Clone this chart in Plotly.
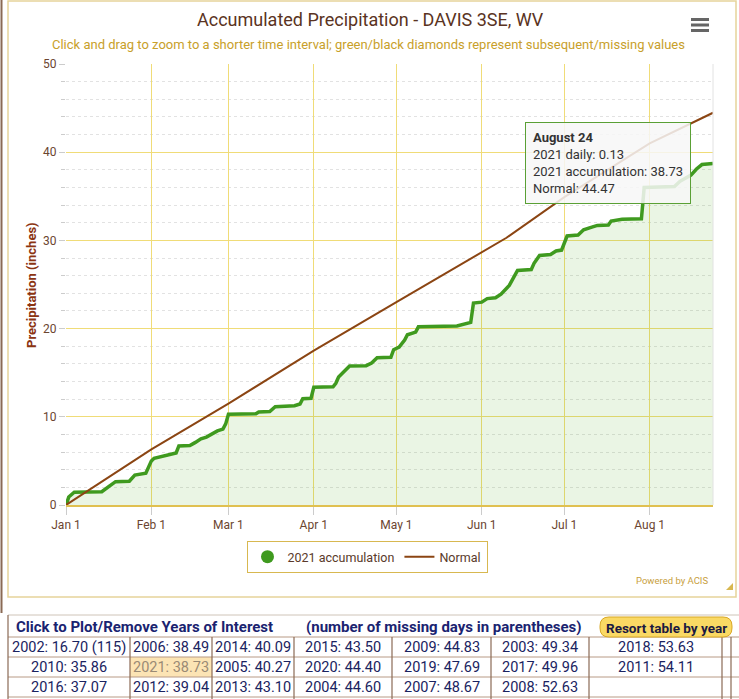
import plotly.graph_objects as go

# 2021 accumulated precipitation (inches) at the step points
acc_dates = ['2021-01-01', '2021-01-02', '2021-01-04', '2021-01-14', '2021-01-17', '2021-01-19',
             '2021-01-24', '2021-01-26', '2021-01-30', '2021-02-01', '2021-02-02', '2021-02-05',
             '2021-02-09', '2021-02-10', '2021-02-11', '2021-02-15', '2021-02-17', '2021-02-19',
             '2021-02-21', '2021-02-23', '2021-02-25', '2021-02-27', '2021-02-28', '2021-03-01',
             '2021-03-11', '2021-03-12', '2021-03-16', '2021-03-18', '2021-03-25', '2021-03-27',
             '2021-03-28', '2021-03-31', '2021-04-01', '2021-04-08', '2021-04-09', '2021-04-10',
             '2021-04-12', '2021-04-14', '2021-04-20', '2021-04-22', '2021-04-24', '2021-04-29',
             '2021-04-30', '2021-05-02', '2021-05-04', '2021-05-05', '2021-05-08', '2021-05-09',
             '2021-05-23', '2021-05-26', '2021-05-28', '2021-05-29', '2021-06-01', '2021-06-03',
             '2021-06-06', '2021-06-08', '2021-06-11', '2021-06-14', '2021-06-19', '2021-06-20',
             '2021-06-22', '2021-06-26', '2021-06-28', '2021-06-30', '2021-07-02', '2021-07-06',
             '2021-07-08', '2021-07-11', '2021-07-13', '2021-07-17', '2021-07-18', '2021-07-22',
             '2021-07-29', '2021-07-30', '2021-08-10', '2021-08-12', '2021-08-16', '2021-08-18',
             '2021-08-20', '2021-08-24']
acc_values = [0, 0.9, 1.45, 1.5, 2.2, 2.65,
              2.7, 3.4, 3.6, 5.0, 5.3, 5.5,
              5.8, 5.9, 6.7, 6.75, 7.1, 7.5,
              7.7, 8.1, 8.4, 8.6, 9.2, 10.3,
              10.35, 10.55, 10.6, 11.15, 11.25, 11.45,
              12.05, 12.1, 13.35, 13.4, 13.8, 14.5,
              15.1, 15.75, 15.8, 16.1, 16.7, 16.75,
              17.6, 17.9, 18.7, 19.3, 19.6, 20.2,
              20.3, 20.5, 20.7, 22.9, 23.0, 23.4,
              23.5, 23.9, 24.9, 26.6, 26.7, 27.4,
              28.3, 28.4, 28.8, 28.9, 30.5, 30.6,
              31.2, 31.5, 31.7, 31.75, 32.2, 32.4,
              32.45, 36.0, 36.1, 36.7, 37.4, 38.1,
              38.6, 38.73]

# normal accumulation
normal_dates = ['2021-01-01', '2021-02-01', '2021-03-01', '2021-04-01', '2021-05-01',
                '2021-06-01', '2021-06-10', '2021-07-01', '2021-08-01', '2021-08-24']
normal_values = [0, 6.3, 11.5, 17.5, 23.0, 28.6, 30.3, 34.9, 41.0, 44.47]

daily_last = 0.13

month_ticks = ['2021-01-01', '2021-02-01', '2021-03-01', '2021-04-01',
               '2021-05-01', '2021-06-01', '2021-07-01', '2021-08-01']

# year totals table, in the order shown (sorted by total)
table_years = [2002, 2010, 2016, 2006, 2021, 2012, 2014, 2005, 2013, 2015, 2020,
               2004, 2009, 2019, 2007, 2003, 2017, 2008, 2018, 2011]
table_totals = [16.70, 35.86, 37.07, 38.49, 38.73, 39.04, 40.09, 40.27, 43.10, 43.50, 44.40,
                44.60, 44.83, 47.69, 48.67, 49.34, 49.96, 52.63, 53.63, 54.11]
table_missing = {2002: 115}

W, H = 739, 699
L, R, T, B = 66, 713, 64, 505


def px(x):
    return (x - L) / (R - L)


def py(y):
    return (B - y) / (B - T)


def note(x, y, text, size, color, xa='center', ya='middle', **kw):
    # text placed at page pixel position
    return dict(xref='paper', yref='paper', x=px(x), y=py(y), text=text, showarrow=False,
                xanchor=xa, yanchor=ya,
                font=dict(family='Roboto, sans-serif', size=size, color=color), **kw)


def rounded_box(x0, y0, x1, y1, r):
    # rounded rectangle path in paper coords, corners given in page pixels
    pts = [('M', x0 + r, y0), ('L', x1 - r, y0), ('Q', x1, y0, x1, y0 + r),
           ('L', x1, y1 - r), ('Q', x1, y1, x1 - r, y1), ('L', x0 + r, y1),
           ('Q', x0, y1, x0, y1 - r), ('L', x0, y0 + r), ('Q', x0, y0, x0 + r, y0)]
    out = []
    for p in pts:
        vals = p[1:]
        coords = []
        for k in range(0, len(vals), 2):
            coords.append('%f,%f' % (px(vals[k]), py(vals[k + 1])))
        out.append(p[0] + ' ' + ' '.join(coords))
    return ' '.join(out) + ' Z'


BROWN = '#6b4530'
GOLD_GRID = '#f0dc78'
GREEN = '#3f9a1f'
NORMAL = '#8b4513'

fig = go.Figure()
fig.add_trace(go.Scatter(
    x=acc_dates, y=acc_values, mode='lines', name='2021 accumulation',
    line=dict(color=GREEN, width=3.5), fill='tozeroy',
    fillcolor='rgba(90,175,50,0.13)', showlegend=False))
fig.add_trace(go.Scatter(
    x=[None], y=[None], mode='markers', name='2021 accumulation',
    marker=dict(color=GREEN, size=13, symbol='circle')))
fig.add_trace(go.Scatter(
    x=normal_dates, y=normal_values, mode='lines', name='Normal',
    line=dict(color=NORMAL, width=2)))

shapes = []
annotations = []

# chart frame + left page edge
shapes.append(dict(type='rect', xref='paper', yref='paper', x0=px(8), x1=px(736),
                   y0=py(1), y1=py(597), line=dict(color='#e6d49a', width=1.5)))
shapes.append(dict(type='line', xref='paper', yref='paper', x0=px(1.5), x1=px(1.5),
                   y0=py(0), y1=py(613), line=dict(color='#8a6a55', width=2)))
# right edge of plot area
shapes.append(dict(type='line', xref='paper', yref='paper', x0=1, x1=1, y0=0, y1=1,
                   line=dict(color='#e2e2e2', width=1)))

# hamburger menu
for yy in (18, 23.5, 29):
    shapes.append(dict(type='rect', xref='paper', yref='paper', x0=px(691), x1=px(709),
                       y0=py(yy), y1=py(yy + 3), fillcolor='#666666', line=dict(width=0)))

# resize glyph
shapes.append(dict(type='path', xref='paper', yref='paper',
                   path='M %f %f L %f %f L %f %f Z' % (px(733), py(583), px(733), py(590),
                                                      px(726), py(590)),
                   fillcolor='#d8b850', line=dict(width=0)))

annotations.append(note(370, 19, 'Accumulated Precipitation - DAVIS 3SE, WV', 18, '#5a3322'))
annotations.append(note(368, 44, 'Click and drag to zoom to a shorter time interval; '
                                 'green/black diamonds represent subsequent/missing values',
                        13, '#c8a02a'))
annotations.append(note(710, 580, 'Powered by ACIS', 9.5, '#c8a040', xa='right'))
annotations.append(note(31, 285, '<b>Precipitation (inches)</b>', 13, '#8b3412', textangle=-90))

# tooltip for the last point
tip = ('<b>August 24</b><br>2021 daily: %.2f<br>2021 accumulation: %.2f<br>Normal: %.2f'
       % (daily_last, acc_values[-1], normal_values[-1]))
annotations.append(note(525, 122, tip, 13, '#333333', xa='left', ya='top', align='left',
                        borderpad=7, bgcolor='rgba(247,247,247,0.86)',
                        bordercolor='#5aa035', borderwidth=1))

# table of yearly totals
t_top, t_head, row_h = 615, 637, 20
col_edges = [8, 130, 212, 294, 392, 491, 589, 722]
shapes.append(dict(type='line', xref='paper', yref='paper', x0=px(8), x1=px(739),
                   y0=py(t_top), y1=py(t_top), line=dict(color='#cfc4b8', width=1)))
shapes.append(dict(type='rect', xref='paper', yref='paper', x0=px(130), x1=px(212),
                   y0=py(t_head + row_h), y1=py(t_head + 2 * row_h),
                   fillcolor='#fce4b4', line=dict(width=0)))
for r in range(4):
    yy = t_head + r * row_h
    shapes.append(dict(type='line', xref='paper', yref='paper', x0=px(8), x1=px(739),
                       y0=py(yy), y1=py(yy), line=dict(color='#b89a85', width=1)))
shapes.append(dict(type='line', xref='paper', yref='paper', x0=px(8), x1=px(8),
                   y0=py(t_top), y1=py(699), line=dict(color='#8a6a55', width=1.2)))
for xx in col_edges[1:] + [731]:
    shapes.append(dict(type='line', xref='paper', yref='paper', x0=px(xx), x1=px(xx),
                       y0=py(t_head), y1=py(699), line=dict(color='#8a6a55', width=1.2)))

annotations.append(note(14, 627, '<b>Click to Plot/Remove Years of Interest</b>', 15, '#1a2370', xa='left'))
annotations.append(note(304, 627, '<b>(number of missing days in parentheses)</b>', 15, '#1a2370', xa='left'))
shapes.append(dict(type='path', xref='paper', yref='paper',
                   path=rounded_box(600, 617, 732, 637, 9), fillcolor='#fad964',
                   line=dict(color='#d9a826', width=1)))
annotations.append(note(666, 627.5, '<b>Resort table by year</b>', 13.5, '#1a1a40'))

for i, (yr, tot) in enumerate(zip(table_years, table_totals)):
    col, row = i // 3, i % 3
    label = '%d: %.2f' % (yr, tot)
    if yr in table_missing:
        label += ' (%d)' % table_missing[yr]
    xc = (col_edges[col] + col_edges[col + 1]) / 2
    yc = t_head + row * row_h + row_h / 2 + 0.5
    color = '#9a8a74' if yr == 2021 else '#1a2360'
    annotations.append(note(xc, yc, label, 14.5, color))

fig.update_layout(
    width=W, height=H,
    margin=dict(l=L, r=W - R, t=T, b=H - B),
    paper_bgcolor='white', plot_bgcolor='white',
    font=dict(family='Roboto, sans-serif', size=12, color=BROWN),
    showlegend=True,
    legend=dict(orientation='h', x=px(367), xanchor='center', y=py(541), yanchor='top',
                bordercolor='#d8b850', borderwidth=1, bgcolor='white',
                font=dict(family='Roboto, sans-serif', size=12.5, color='#5a3a2a')),
    shapes=shapes, annotations=annotations,
)
fig.update_xaxes(
    type='date', range=['2021-01-01', '2021-08-24'],
    tickvals=month_ticks, tickformat='%b %-d',
    showgrid=True, gridcolor=GOLD_GRID, gridwidth=1,
    ticks='outside', ticklen=8, tickcolor='#cccccc',
    showline=True, linecolor='#e0c050', linewidth=2,
    tickfont=dict(size=12, color=BROWN), zeroline=False,
)
fig.update_yaxes(
    range=[0, 50], dtick=10, showgrid=True, gridcolor=GOLD_GRID, gridwidth=1,
    ticks='outside', ticklen=6, tickcolor='#cccccc', zeroline=False,
    tickfont=dict(size=12, color=BROWN),
    minor=dict(dtick=2, showgrid=True, griddash='dot', gridcolor='#e2e2e2',
               ticks='outside', ticklen=4, tickcolor='#cccccc'),
)

fig.write_html('out.html', config={'displayModeBar': False},
               post_script="document.body.style.margin='0';")
